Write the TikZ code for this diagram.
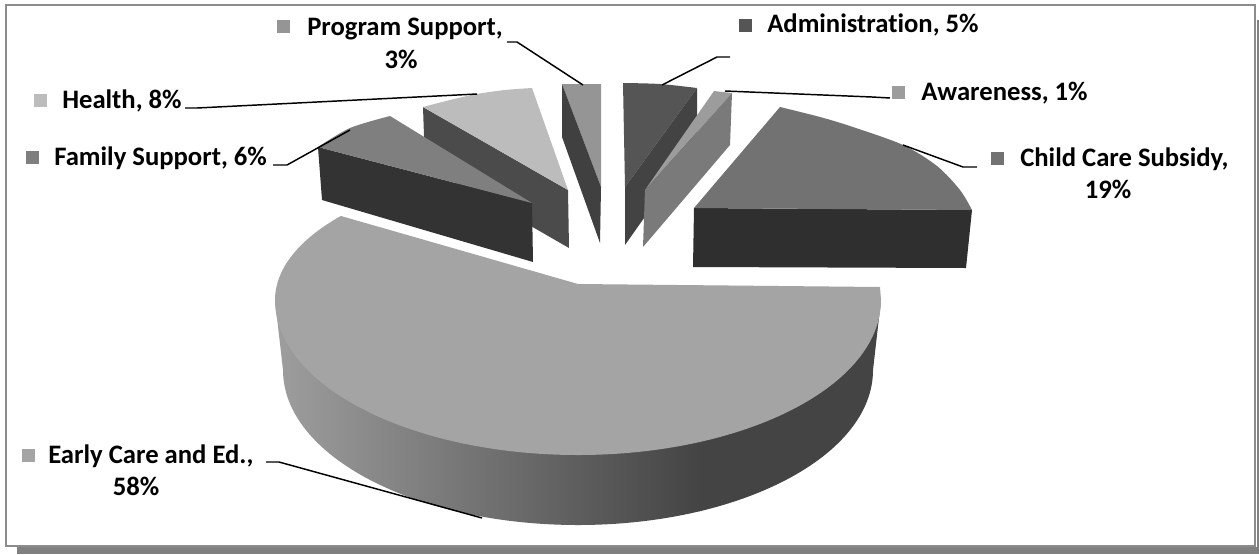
\documentclass[tikz,border=0pt]{standalone}
\usepackage{fontspec}
\setmainfont{Carlito}[Ligatures=NoCommon]
\definecolor{psTop}{HTML}{959595}\definecolor{psSide}{HTML}{404040}
\definecolor{adTop}{HTML}{555555}\definecolor{adSide}{HTML}{434343}
\definecolor{awTop}{HTML}{9C9C9C}\definecolor{awSide}{HTML}{7A7A7A}
\definecolor{ccTop}{HTML}{727272}\definecolor{ccSide}{HTML}{2F2F2F}
\definecolor{ecTop}{HTML}{A4A4A4}\definecolor{ecWallL}{HTML}{9E9E9E}\definecolor{ecWallR}{HTML}{444444}
\definecolor{fsTop}{HTML}{7F7F7F}\definecolor{fsSide}{HTML}{333333}
\definecolor{hTop}{HTML}{BCBCBC}\definecolor{hSide}{HTML}{4B4B4B}
\definecolor{frameGray}{HTML}{8C8C8C}\definecolor{shadowGray}{HTML}{808080}
\begin{document}
\begin{tikzpicture}[x=0.75pt,y=-0.75pt,
  lbl/.style={font=\fontsize{20}{24}\selectfont\bfseries, inner sep=0pt, text=black},
  mk/.style={draw=none, inner sep=0pt, minimum width=9.75pt, minimum height=9.75pt},
  leader/.style={line width=1.1pt, black, line join=round}]
\useasboundingbox (0,0) rectangle (1259,554);
% frame
\fill[shadowGray] (17,547) rectangle (1259,554);
\fill[shadowGray] (1257,20) rectangle (1259,554);
\draw[frameGray, line width=1.5pt, fill=white] (6,5) rectangle (1255,546);

% Program Support
\fill[psTop] (562,84) -- (601,84) -- (601,187) -- cycle;
\fill[psSide] (562,84) -- (601,187) -- (600,243) -- (562,137) -- cycle;
% Administration
\fill[adTop] (623,83) -- plot[smooth] coordinates {(623,83) (660,84) (697,88)} -- (625,187) -- cycle;
\fill[adSide] (697,88) -- (625,187) -- (625,245) -- (697,143) -- cycle;
% Awareness
\fill[awTop] (714,91) -- (732,93) -- (645,190) -- cycle;
\fill[awSide] (732,93) -- (645,190) -- (643,247) -- (730,145) -- cycle;
% Health
\fill[hSide] (423,107) -- (568,190) -- (569,248) -- (425,165) -- cycle;
\fill[hTop] (423,107) -- plot[smooth] coordinates {(423,107) (450,100) (477,94) (505,90) (532,88)} -- (568,190) -- cycle;
% Family Support
\fill[fsSide] (318,147) -- (532,203) -- (533,262) -- (322,200) -- cycle;
\fill[fsTop] (318,147) -- plot[smooth] coordinates {(318,147) (350,128) (390,116)} -- (532,203) -- cycle;
% Child Care Subsidy
\fill[ccSide] (694,208) -- (972,210) -- (966,268) -- (693,267) -- cycle;
\fill[ccTop] (694,208) -- (780,107) -- plot[smooth] coordinates {(780,107) (820,117) (853,127) (903,145) (937,166) (960,190) (972,210)} -- cycle;
% Early Care and Ed.: wall
\begin{scope}
\clip (881,300) -- (873,370) arc[start angle=0, end angle=180, x radius=295, y radius=155] -- (275,300) -- cycle;
\shade[left color=ecWallL, right color=ecWallR] (274,280) rectangle (700,530);
\fill[ecWallR] (699,280) rectangle (890,530);
\end{scope}
% Early Care and Ed.: top
\fill[ecTop] (578,284) -- (880,287) -- (881,300)
  arc[start angle=0, end angle=180, x radius=303, y radius=155]
  arc[start angle=180, end angle=218.5, x radius=303, y radius=135] -- cycle;

% labels
\node[mk, fill=psTop] (mPS) at (283,26) {};
\node[lbl, anchor=base west] (tPS) at (307,35) {Program Support,};
\node[lbl, anchor=base] (tPS2) at (401,68) {3\%};
\node[mk, fill=adTop] (mAD) at (745,25) {};
\node[lbl, anchor=base west] (tAD) at (767,32) {Administration, 5\%};
\node[mk, fill=awTop] (mAW) at (898,92) {};
\node[lbl, anchor=base west] (tAW) at (921,100) {Awareness, 1\%};
\node[mk, fill=ccTop] (mCC) at (997,158) {};
\node[lbl, anchor=base west] (tCC) at (1020,166) {Child Care Subsidy,};
\node[lbl, anchor=base] (tCC2) at (1108,198) {19\%};
\node[mk, fill=hTop] (mH) at (40,100) {};
\node[lbl, anchor=base west] (tH) at (62,108) {Health, 8\%};
\node[mk, fill=fsTop] (mFS) at (32,157) {};
\node[lbl, anchor=base west] (tFS) at (54,165) {Family Support, 6\%};
\node[mk, fill=ecTop] (mEC) at (28,455) {};
\node[lbl, anchor=base west] (tEC) at (48,463) {Early Care and Ed.,};
\node[lbl, anchor=base] (tEC2) at (136,495) {58\%};

% leader lines
\coordinate (psA) at (507,42); \coordinate (psB) at (517,42); \coordinate (psC) at (583,85);
\coordinate (adA) at (662,85); \coordinate (adB) at (717,57); \coordinate (adC) at (730,57);
\coordinate (awA) at (725,91); \coordinate (awB) at (872,97); \coordinate (awC) at (890,98);
\coordinate (ccA) at (903,145); \coordinate (ccB) at (963,167); \coordinate (ccC) at (977,167);
\coordinate (hA) at (185,108); \coordinate (hB) at (197,108); \coordinate (hC) at (477,94);
\coordinate (fsA) at (273,165); \coordinate (fsB) at (287,165); \coordinate (fsC) at (350,130);
\coordinate (ecA) at (266,462); \coordinate (ecB) at (279,462); \coordinate (ecC) at (482,518);
\draw[leader] (psA) -- (psB) -- (psC);
\draw[leader] (adA) -- (adB) -- (adC);
\draw[leader] (awA) -- (awB) -- (awC);
\draw[leader] (ccA) -- (ccB) -- (ccC);
\draw[leader] (hA) -- (hB) -- (hC);
\draw[leader] (fsA) -- (fsB) -- (fsC);
\draw[leader] (ecA) -- (ecB) -- (ecC);
\end{tikzpicture}
\end{document}
